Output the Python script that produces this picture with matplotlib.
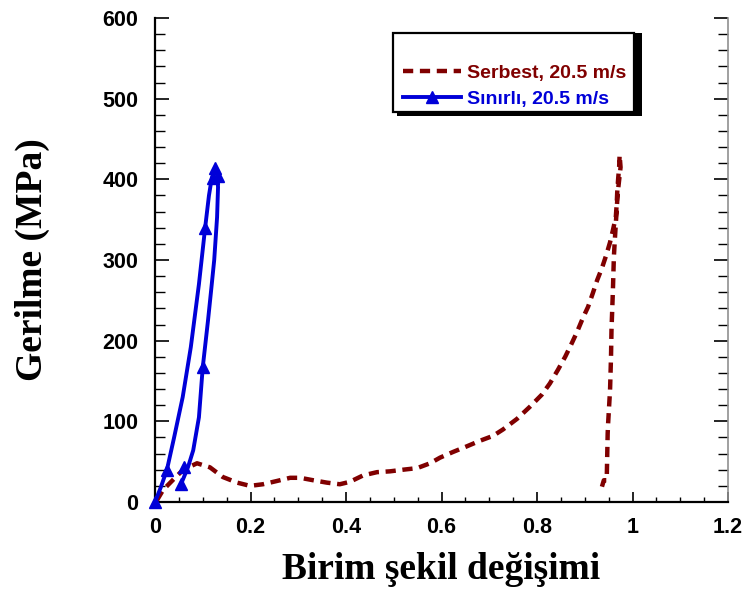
import matplotlib
matplotlib.use("Agg")
import matplotlib.pyplot as plt
from matplotlib.lines import Line2D
from matplotlib.patches import Rectangle
from matplotlib.ticker import MultipleLocator
from matplotlib.font_manager import FontProperties

# Serbest, 20.5 m/s (dashed dark red)
serbest_x = [0.004, 0.017, 0.042, 0.059, 0.088, 0.115, 0.142, 0.172, 0.199, 0.226, 0.255,
             0.283, 0.304, 0.331, 0.36, 0.387, 0.408, 0.436, 0.465, 0.492, 0.519, 0.549,
             0.576, 0.597, 0.624, 0.653, 0.681, 0.708, 0.729, 0.758, 0.785, 0.810, 0.827,
             0.844, 0.859, 0.873, 0.884, 0.896, 0.907, 0.917, 0.926, 0.936, 0.945, 0.953,
             0.959, 0.965, 0.967, 0.968, 0.970, 0.972, 0.973,
             0.975, 0.972, 0.969, 0.963, 0.961, 0.959, 0.956, 0.955, 0.953, 0.949, 0.948,
             0.947, 0.946, 0.940, 0.936]
serbest_y = [2, 15, 30, 40, 48, 43, 31, 24, 20, 22, 26,
             30, 30, 27, 24, 22, 25, 33, 37, 38, 40, 42,
             48, 55, 62, 69, 76, 82, 90, 103, 118, 133, 147,
             164, 180, 197, 211, 228, 242, 259, 275, 290, 306, 322,
             337, 353, 370, 384, 401, 415, 430,
             415, 399, 383, 325, 304, 263, 213, 180, 139, 98, 85,
             56, 27, 27, 19]

# Sınırlı, 20.5 m/s (solid blue with triangles)
sinirli_x = [0.0, 0.012, 0.025, 0.040, 0.058, 0.075, 0.092, 0.105, 0.113, 0.119, 0.126,
             0.131, 0.132, 0.130, 0.124, 0.118, 0.111, 0.100, 0.092, 0.080, 0.069, 0.060, 0.053]
sinirli_y = [0, 18, 40, 80, 130, 192, 270, 340, 380, 402, 414,
             405, 390, 353, 300, 265, 225, 167, 105, 64, 43, 30, 20]
sinirli_mx = [0.0, 0.025, 0.105, 0.121, 0.126, 0.131, 0.100, 0.060, 0.055]
sinirli_my = [0, 40, 340, 402, 414, 404, 167, 43, 22]

xticks = [0, 0.2, 0.4, 0.6, 0.8, 1, 1.2]
xticklabels = ["0", "0.2", "0.4", "0.6", "0.8", "1", "1.2"]
yticks = [0, 100, 200, 300, 400, 500, 600]

red = "#800000"
blue = "#0000d8"

fig = plt.figure(figsize=(7.45, 5.92), dpi=100)
ax = fig.add_axes([155/745, 1-502/592, (728-155)/745, (502-18)/592])

ax.plot(serbest_x, serbest_y, color=red, lw=3.2, dashes=(2.3, 1.5),
        dash_capstyle="butt", clip_on=False, zorder=3)
ax.plot(sinirli_x, sinirli_y, color=blue, lw=2.8, clip_on=False, zorder=4)
ax.plot(sinirli_mx, sinirli_my, ls="none", marker="^", ms=8, color=blue, clip_on=False, zorder=5)

ax.set_xlim(0, 1.2)
ax.set_ylim(0, 600)
ax.set_xticks(xticks)
ax.set_xticklabels(xticklabels)
ax.set_yticks(yticks)
ax.xaxis.set_minor_locator(MultipleLocator(0.05))
ax.yaxis.set_minor_locator(MultipleLocator(20))

tickfp = FontProperties(family="Liberation Sans", weight="bold", size=15.5)
for lab in ax.get_xticklabels() + ax.get_yticklabels():
    lab.set_fontproperties(tickfp)

ax.tick_params(axis="x", which="major", direction="in", length=7, width=1.2, pad=11, top=False)
ax.tick_params(axis="x", which="minor", direction="in", length=3.5, width=1.0, top=False)
ax.tick_params(axis="y", which="major", direction="in", length=10, width=1.2, pad=12, right=True)
ax.tick_params(axis="y", which="minor", direction="in", length=7, width=1.0, right=True)

ax.spines["top"].set_visible(False)
ax.spines["left"].set_linewidth(1.6)
ax.spines["bottom"].set_linewidth(1.6)
ax.spines["right"].set_linewidth(1.2)
ax.spines["right"].set_color("#909090")

ax.set_xlabel("Birim şekil değişimi", family="Liberation Serif", weight="bold", size=27, labelpad=10)
ax.set_ylabel("Gerilme (MPa)", family="Liberation Serif", weight="bold", size=27, labelpad=38)

# legend box with shadow
fig.patches.append(Rectangle((397/745, 1-116/592), (638-393)/745, (116-33)/592,
                             transform=fig.transFigure, facecolor="black", edgecolor="none", zorder=1))
fig.patches.append(Rectangle((393/745, 1-112/592), (634-393)/745, (112-33)/592,
                             transform=fig.transFigure, facecolor="white", edgecolor="black",
                             lw=1.6, zorder=2))

h1 = Line2D([], [], color=red, lw=3.2, dashes=(2.3, 1.5), dash_capstyle="butt")
h2 = Line2D([], [], color=blue, lw=2.8, marker="^", ms=8)
leg = fig.legend([h1, h2], ["Serbest, 20.5 m/s", "Sınırlı, 20.5 m/s"],
                 loc="upper left", bbox_to_anchor=(403/745, 1-64/592), bbox_transform=fig.transFigure,
                 frameon=False, borderpad=0, borderaxespad=0, handlelength=3.0, handletextpad=0.3,
                 labelspacing=0.45, prop=dict(family="Liberation Sans", weight="bold", size=14),
                 labelcolor=[red, blue])
leg.set_zorder(5)

fig.savefig("out.png", dpi=100)
